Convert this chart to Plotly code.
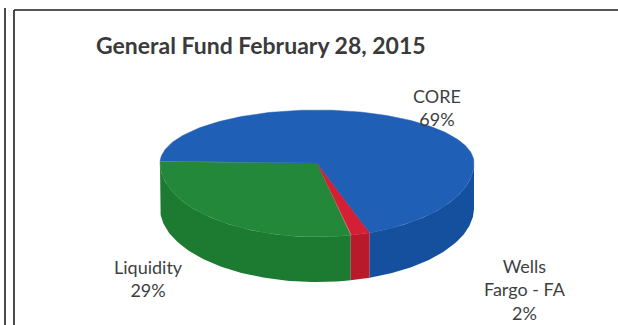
import numpy as np
import plotly.graph_objects as go

# Portfolio shares (percent), listed counter-clockwise from the left edge of the pie
labels = ["Liquidity", "Wells Fargo - FA", "CORE"]
shares = [29, 2, 69]
label_text = ["Liquidity", "Wells<br>Fargo - FA", "CORE"]
title_text = "General Fund February 28, 2015"

top_colors = ["#23883a", "#d51f35", "#1f5fb6"]
side_colors = ["#1c7a31", "#b81a2c", "#15509e"]

W, H = 618, 325

# tilted-disc geometry (pixel space, y downwards)
CX, CY = 317, 163
RX = 157
RY_BACK, RY_FRONT = 53, 74   # far half is squeezed to fake perspective
DEPTH = 45
START = 182                  # angle (deg) where the first slice begins


def rim(phi_deg, drop=0.0):
    phi = np.radians(phi_deg)
    s = np.sin(phi)
    ry = np.where(s > 0, RY_FRONT, RY_BACK)
    return CX + RX * np.cos(phi), CY + ry * s + drop


fig = go.Figure()

# slice angle ranges, going counter-clockwise on screen (decreasing angle)
total = float(sum(shares))
ranges = []
a = START
for v in shares:
    b = a - 360.0 * v / total
    ranges.append((b, a))
    a = b

# outer walls: only the front half (0..180 deg) is visible
for (lo, hi), col in zip(ranges, side_colors):
    for k in (-1, 0, 1):
        l2, h2 = max(lo + 360 * k, 0), min(hi + 360 * k, 180)
        if h2 <= l2:
            continue
        ph = np.linspace(l2, h2, 80)
        xt, yt = rim(ph)
        xb, yb = rim(ph[::-1], DEPTH)
        fig.add_trace(go.Scatter(
            x=np.concatenate([xt, xb, xt[:1]]),
            y=np.concatenate([yt, yb, yt[:1]]),
            mode="lines", fill="toself", fillcolor=col,
            line=dict(width=0, color=col), hoverinfo="skip"))

# top faces
for (lo, hi), col, name, v in zip(ranges, top_colors, labels, shares):
    ph = np.linspace(hi, lo, 200)
    xa, ya = rim(ph)
    fig.add_trace(go.Scatter(
        x=np.concatenate([[CX], xa, [CX]]),
        y=np.concatenate([[CY], ya, [CY]]),
        mode="lines", fill="toself", fillcolor=col,
        line=dict(width=0.5, color=col), name=name,
        hovertemplate=f"{name}: {v}%<extra></extra>"))

# data labels
label_pos = [(148, 278), (525, 289), (437, 107)]
for (lx, ly), txt, v in zip(label_pos, label_text, shares):
    fig.add_annotation(x=lx, y=ly, text=f"{txt}<br>{v}%", showarrow=False,
                       xanchor="center", yanchor="middle", align="center",
                       font=dict(family="Lato", size=18, color="#3f3f3f"))

fig.add_annotation(x=261, y=45, text=f"<b>{title_text}</b>", showarrow=False,
                   xanchor="center", yanchor="middle",
                   font=dict(family="Lato", size=23, color="#3a3a3a"))

# frame lines around the chart
frame = dict(color="#1e1e1e", width=1.6)
fig.add_shape(type="line", x0=5, x1=5, y0=8, y1=H, line=frame)
fig.add_shape(type="line", x0=14, x1=14, y0=10, y1=H, line=frame)
fig.add_shape(type="line", x0=14, x1=W, y0=10, y1=10, line=frame)

fig.update_layout(
    width=W, height=H, margin=dict(l=0, r=0, t=0, b=0),
    paper_bgcolor="white", plot_bgcolor="white", showlegend=False,
    xaxis=dict(range=[0, W], visible=False, fixedrange=True),
    yaxis=dict(range=[H, 0], visible=False, fixedrange=True),
)

fig.write_html("out.html")
